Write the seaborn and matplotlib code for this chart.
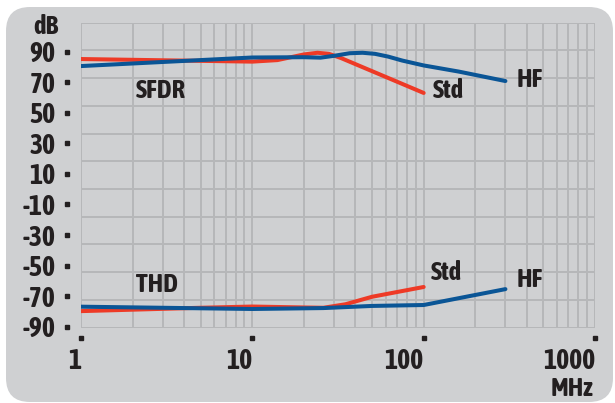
import numpy as np
import pandas as pd
import matplotlib
matplotlib.use("Agg")
import matplotlib.pyplot as plt
import matplotlib.transforms as mtransforms
import matplotlib.patheffects as pe
from matplotlib.patches import FancyBboxPatch
from matplotlib.ticker import FixedLocator, NullFormatter, LogLocator
from matplotlib import font_manager
import seaborn as sns

# ---------------- data ----------------
sfdr_std_freq = [1, 10, 14, 20, 24, 28, 33, 100]
sfdr_std_db = [85.2, 83.5, 84.5, 88.2, 89.3, 88.6, 85.8, 63.0]

sfdr_hf_freq = [1, 10, 20, 25, 30, 37, 44, 52, 62, 75, 100, 160, 300]
sfdr_hf_db = [80.6, 86.2, 86.4, 86.1, 87.3, 89.0, 89.3, 88.6, 86.8, 84.2, 81.0, 77.0, 70.8]

thd_std_freq = [1, 5, 10, 20, 26, 35, 50, 100]
thd_std_db = [-79.8, -77.6, -76.8, -77.4, -77.6, -75.3, -70.4, -64.0]

thd_hf_freq = [1, 10, 26, 50, 100, 300]
thd_hf_db = [-76.9, -78.4, -77.8, -76.4, -75.8, -65.4]

y_ticks = [90, 70, 50, 30, 10, -10, -30, -50, -70, -90]
x_ticks = [1, 10, 100, 1000]
x_tick_labels = ["1", "10", "100", "1000"]

# ---------------- style ----------------
RED = "#ee3a26"
BLUE = "#0a5596"
BG = "#cfd0d2"
GRID = "#b6b7b9"
TXT = "#231f20"

sns.set_style("white")


def _w(f):
    w = f.weight
    if isinstance(w, str):
        return {"bold": 700, "heavy": 800, "black": 900, "semibold": 600,
                "demibold": 600}.get(w.lower(), 400)
    return int(w)


fl = font_manager.fontManager.ttflist
cond = [f for f in fl if ("Narrow" in f.name or "Condensed" in f.name)]
bold_cond = [f for f in cond if _w(f) >= 700]
effects = []
if bold_cond:
    family = sorted({f.name for f in bold_cond})[0]
elif cond:
    family = sorted({f.name for f in cond})[0]
    effects = [pe.withStroke(linewidth=1.1, foreground=TXT)]
else:
    family = "Liberation Sans"
plt.rcParams["font.family"] = [family, "Liberation Sans", "DejaVu Sans"]
plt.rcParams["font.weight"] = "bold"

TICK_FS = 20
ANN_FS = 19

W, H = 615, 403
fig = plt.figure(figsize=(W / 100, H / 100), dpi=100)
fig.patch.set_facecolor("white")

# rounded gray panel
panel = FancyBboxPatch((6, 1), 607, 395, boxstyle="round,pad=0,rounding_size=24",
                       transform=mtransforms.IdentityTransform(),
                       facecolor=BG, edgecolor="none", zorder=-5)
fig.patches.append(panel)

ax_l, ax_r, ax_t, ax_b = 81, 595, 22.7, 327.5
ax = fig.add_axes([ax_l / W, 1 - ax_b / H, (ax_r - ax_l) / W, (ax_b - ax_t) / H])
ax.set_facecolor("none")
ax.set_zorder(2)

ymin, ymax = -90.52, 108.98
ax.set_xscale("log")
ax.set_xlim(1, 1000)
ax.set_ylim(ymin, ymax)

# grid
ax.xaxis.set_minor_locator(LogLocator(base=10, subs=np.arange(2, 10)))
ax.xaxis.set_minor_formatter(NullFormatter())
ax.grid(which="both", axis="x", color=GRID, lw=1.4)
grid_y = np.linspace(ymin, ymax, 12)
ax.yaxis.set_minor_locator(FixedLocator(grid_y))
ax.grid(which="minor", axis="y", color=GRID, lw=1.4)
ax.grid(which="major", axis="y", visible=False)
for s in ax.spines.values():
    s.set_visible(False)

# lines
for fx, fy, col in [(sfdr_std_freq, sfdr_std_db, RED),
                    (sfdr_hf_freq, sfdr_hf_db, BLUE),
                    (thd_std_freq, thd_std_db, RED),
                    (thd_hf_freq, thd_hf_db, BLUE)]:
    df = pd.DataFrame({"f": fx, "db": fy})
    sns.lineplot(data=df, x="f", y="db", ax=ax, color=col, lw=2.9,
                 sort=False, estimator=None, zorder=3)

# ticks
ax.set_yticks(y_ticks)
ax.set_yticklabels([str(v) for v in y_ticks])
ax.set_xticks(x_ticks)
ax.set_xticklabels(x_tick_labels)
ax.tick_params(which="both", length=0)
ax.tick_params(axis="y", pad=18.5, labelsize=TICK_FS, labelcolor=TXT)
ax.tick_params(axis="x", pad=15, labelsize=TICK_FS, labelcolor=TXT)
for lbl in ax.get_xticklabels():
    lbl.set_ha("right")
    lbl.set_fontweight("bold")
    lbl.set_path_effects(effects)
for lbl in ax.get_yticklabels():
    lbl.set_fontweight("bold")
    lbl.set_path_effects(effects)
ax.set_xlabel("")
ax.set_ylabel("")

# small square tick marks
ty = mtransforms.blended_transform_factory(ax.transAxes, ax.transData)
ax.plot([-0.0272] * len(y_ticks), y_ticks, ls="none", marker="s", ms=3.0,
        color=TXT, transform=ty, clip_on=False)
tx = mtransforms.blended_transform_factory(ax.transData, ax.transAxes)
ax.plot(x_ticks, [-0.0344] * len(x_ticks), ls="none", marker="s", ms=2.8,
        color=TXT, transform=tx, clip_on=False)

# annotations
kw = dict(fontsize=ANN_FS, fontweight="bold", color=TXT, ha="left", va="center",
          path_effects=effects)
ax.text(2.09, 64.9, "SFDR", **kw)
ax.text(112.4, 64.3, "Std", **kw)
ax.text(347, 71.5, "HF", **kw)
ax.text(2.09, -62.7, "THD", **kw)
ax.text(109.9, -54.8, "Std", **kw)
ax.text(347, -58.8, "HF", **kw)

fig.text(33 / W, 1 - 27 / H, "dB", fontsize=ANN_FS, fontweight="bold", color=TXT,
         ha="left", va="center", path_effects=effects)
fig.text(593 / W, 1 - 389 / H, "MHz", fontsize=ANN_FS, fontweight="bold", color=TXT,
         ha="right", va="center", path_effects=effects)

fig.savefig("out.png", dpi=100, facecolor="white")
